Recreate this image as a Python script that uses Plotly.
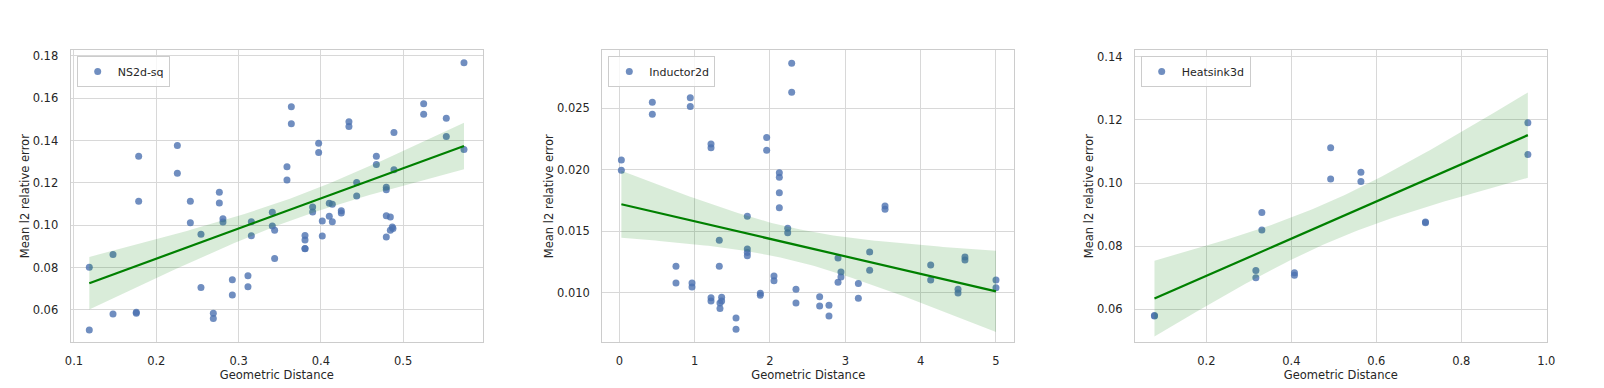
import numpy as np
import plotly.graph_objects as go

# NS2d-sq
ns_x = [0.1186, 0.1186, 0.1474, 0.1474, 0.1757, 0.1757, 0.1786, 0.1786, 0.2256, 0.2256,
        0.2414, 0.2414, 0.2543, 0.2543, 0.2693, 0.2693, 0.2766, 0.2766, 0.2810, 0.2810,
        0.2924, 0.2924, 0.3114, 0.3114, 0.3155, 0.3155, 0.3410, 0.3410, 0.3438, 0.3438,
        0.3588, 0.3588, 0.3641, 0.3641, 0.3807, 0.3807, 0.3807, 0.3807, 0.3900, 0.3900,
        0.3973, 0.3973, 0.4017, 0.4017, 0.4102, 0.4102, 0.4139, 0.4139, 0.4248, 0.4248,
        0.4341, 0.4341, 0.4435, 0.4435, 0.4674, 0.4674, 0.4795, 0.4795, 0.4795, 0.4795,
        0.4844, 0.4844, 0.4868, 0.4876, 0.4888, 0.4888, 0.5249, 0.5249, 0.5524, 0.5524,
        0.5739, 0.5739]
ns_y = [0.0802, 0.0505, 0.0862, 0.0581, 0.0589, 0.0584, 0.1326, 0.1113, 0.1377, 0.1246,
        0.1113, 0.1012, 0.0958, 0.0706, 0.0584, 0.0559, 0.1156, 0.1105, 0.1031, 0.1015,
        0.0742, 0.0671, 0.0761, 0.0709, 0.1017, 0.0950, 0.1061, 0.0996, 0.0976, 0.0843,
        0.1276, 0.1214, 0.1560, 0.1480, 0.0952, 0.0930, 0.0890, 0.0889, 0.1086, 0.1063,
        0.1388, 0.1344, 0.1020, 0.0949, 0.1104, 0.1042, 0.1099, 0.1017, 0.1069, 0.1058,
        0.1489, 0.1467, 0.1202, 0.1138, 0.1326, 0.1287, 0.1179, 0.1168, 0.1045, 0.0944,
        0.1039, 0.0976, 0.0992, 0.0985, 0.1438, 0.1262, 0.1574, 0.1524, 0.1505, 0.1419,
        0.1768, 0.1358]

# Inductor2d
ind_x = [0.027, 0.027, 0.438, 0.438, 0.752, 0.752, 0.942, 0.942, 0.965, 0.965,
         1.217, 1.217, 1.217, 1.217, 1.327, 1.327, 1.336, 1.336, 1.358, 1.358,
         1.549, 1.549, 1.699, 1.699, 1.699, 1.699, 1.872, 1.872, 1.956, 1.956,
         2.053, 2.053, 2.124, 2.124, 2.124, 2.124, 2.235, 2.235, 2.288, 2.288,
         2.345, 2.345, 2.659, 2.659, 2.783, 2.783, 2.903, 2.903, 2.942, 2.942,
         3.173, 3.173, 3.323, 3.323, 3.527, 3.527, 4.133, 4.133, 4.496, 4.496,
         4.588, 4.588, 5.000, 5.000]
ind_y = [0.02080, 0.01996, 0.02549, 0.02451, 0.01217, 0.01081, 0.02587, 0.02514, 0.01081, 0.01049,
         0.02210, 0.02180, 0.00960, 0.00935, 0.01428, 0.01217, 0.00919, 0.00873, 0.00965, 0.00935,
         0.00797, 0.00705, 0.01623, 0.01357, 0.01328, 0.01303, 0.00997, 0.00981, 0.02264, 0.02159,
         0.01138, 0.01100, 0.01977, 0.01940, 0.01815, 0.01693, 0.01525, 0.01490, 0.02866, 0.02630,
         0.01030, 0.00919, 0.00970, 0.00894, 0.00900, 0.00813, 0.01284, 0.01087, 0.01171, 0.01130,
         0.01076, 0.00957, 0.01333, 0.01184, 0.01707, 0.01680, 0.01227, 0.01106, 0.01030, 0.01000,
         0.01292, 0.01268, 0.01106, 0.01043]

# Heatsink3d
hs_x = [0.078, 0.078, 0.3166, 0.3166, 0.3307, 0.3307, 0.4074, 0.4074,
        0.4926, 0.4926, 0.5638, 0.5638, 0.7157, 0.7157, 0.9567, 0.9567]
hs_y = [0.0581, 0.0579, 0.0723, 0.0700, 0.0907, 0.0851, 0.0716, 0.0708,
        0.1112, 0.1013, 0.1034, 0.1005, 0.0877, 0.0874, 0.1191, 0.1090]

panels = [
    ("NS2d-sq", ns_x, ns_y, [0.096, 0.597], [0.0447, 0.1828], [0.1, 0.2, 0.3, 0.4, 0.5],
     [0.06, 0.08, 0.10, 0.12, 0.14, 0.16, 0.18], ".1f", ".2f"),
    ("Inductor2d", ind_x, ind_y, [-0.226, 5.243], [0.00599, 0.02974], [0, 1, 2, 3, 4, 5],
     [0.010, 0.015, 0.020, 0.025], "d", ".3f"),
    ("Heatsink3d", hs_x, hs_y, [0.0322, 1.001], [0.0496, 0.1421], [0.2, 0.4, 0.6, 0.8, 1.0],
     [0.06, 0.08, 0.10, 0.12, 0.14], ".1f", ".2f"),
]

# page has an 8px body margin, so page pixels are shifted by 8
W, H, OFF = 1604, 388, 8


def fx(px):
    return (px - OFF) / W


def fy(py):
    return (H - (py - OFF)) / H


x_domains = [[fx(70.7), fx(483)], [fx(602.3), fx(1014.3)], [fx(1135), fx(1546.7)]]
y_domain = [fy(342.3), fy(50)]
legend_x = [fx(76.7), fx(608.3), fx(1140.7)]


def t975(df):
    z = 1.959964
    return z + (z ** 3 + z) / (4 * df) + (5 * z ** 5 + 16 * z ** 3 + 3 * z) / (96 * df ** 2)


def fit_band(x, y):
    x = np.asarray(x)
    y = np.asarray(y)
    n = len(x)
    b, a = np.polyfit(x, y, 1)
    grid = np.linspace(x.min(), x.max(), 100)
    resid = y - (a + b * x)
    s = np.sqrt(np.sum(resid ** 2) / (n - 2))
    sxx = np.sum((x - x.mean()) ** 2)
    half = t975(n - 2) * s * np.sqrt(1 / n + (grid - x.mean()) ** 2 / sxx)
    fit = a + b * grid
    return grid, fit, fit - half, fit + half


font = dict(family="DejaVu Sans", size=11.5, color="#262626")
fig = go.Figure()
layout = dict(
    width=W, height=H,
    margin=dict(l=0, r=0, t=0, b=0, autoexpand=False),
    paper_bgcolor="white", plot_bgcolor="white",
    font=font,
)

for i, (name, x, y, xr, yr, xt, yt, xf, yf) in enumerate(panels):
    k = "" if i == 0 else str(i + 1)
    leg = "legend" + k
    grid, fit, lo, hi = fit_band(x, y)

    fig.add_trace(go.Scatter(
        x=x, y=y, mode="markers", name=name, legend=leg,
        marker=dict(color="rgba(76,114,176,0.8)", size=7),
        xaxis="x" + k, yaxis="y" + k,
    ))
    fig.add_trace(go.Scatter(
        x=np.concatenate([grid, grid[::-1]]), y=np.concatenate([hi, lo[::-1]]),
        fill="toself", fillcolor="rgba(0,128,0,0.15)", line=dict(width=0),
        mode="lines", showlegend=False, hoverinfo="skip",
        xaxis="x" + k, yaxis="y" + k,
    ))
    fig.add_trace(go.Scatter(
        x=grid, y=fit, mode="lines", line=dict(color="#008000", width=2.2),
        showlegend=False, xaxis="x" + k, yaxis="y" + k,
    ))

    axis_common = dict(
        showgrid=True, gridcolor="#d8d8d8", gridwidth=1,
        showline=True, linecolor="#cccccc", linewidth=1.3, mirror=True,
        zeroline=False, ticks="outside", tickcolor="rgba(0,0,0,0)",
        tickfont=font, automargin=False,
    )
    layout["xaxis" + k] = dict(
        axis_common, domain=x_domains[i], range=xr, tickvals=xt, tickformat=xf, ticklen=8,
        anchor="y" + k,
        title=dict(text="Geometric Distance", font=font, standoff=1),
    )
    layout["yaxis" + k] = dict(
        axis_common, domain=y_domain, range=yr, tickvals=yt, tickformat=yf, ticklen=9,
        anchor="x" + k,
        title=dict(text="Mean l2 relative error", font=font, standoff=0),
    )
    layout[leg] = dict(
        x=legend_x[i], y=fy(56), xanchor="left", yanchor="top",
        bgcolor="rgba(255,255,255,0.8)", bordercolor="#cccccc", borderwidth=1,
        font=dict(family="DejaVu Sans", size=11, color="#262626"),
        itemwidth=30,
    )

fig.update_layout(**layout)
fig.write_html("out.html")
